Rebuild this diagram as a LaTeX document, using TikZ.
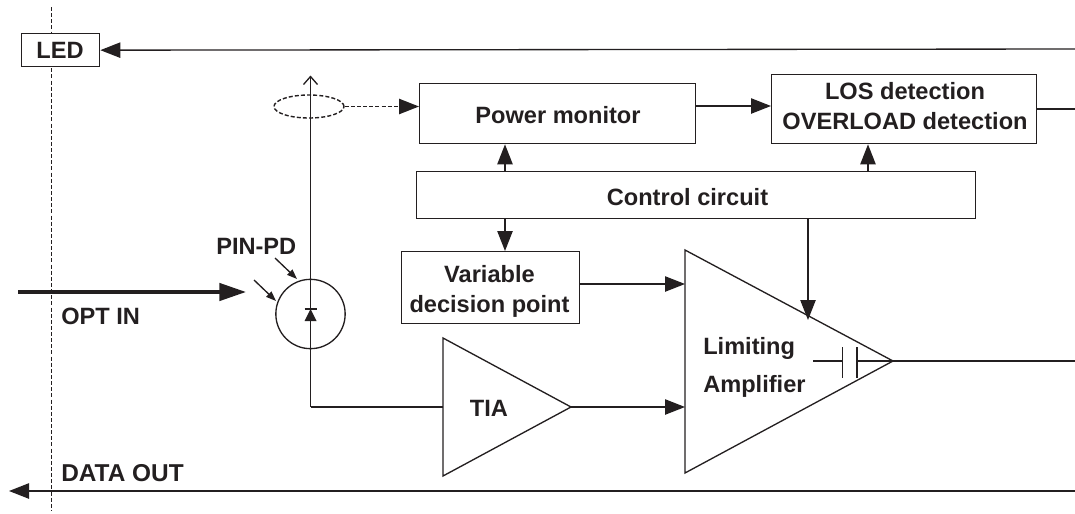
\documentclass[tikz,border=0pt]{standalone}
\usepackage{fontspec}
\setmainfont{Liberation Sans}
\usetikzlibrary{arrows.meta,shapes.geometric}
\definecolor{ink}{HTML}{231F20}
\tikzset{
  blockbox/.style={draw=ink,line width=1pt,inner sep=0pt,anchor=north west},
  lbl/.style={font=\fontsize{17.7}{22.5}\selectfont\bfseries,text=ink,align=center,inner sep=0pt},
  wire/.style={draw=ink,line width=1pt},
  arr/.style={wire,-{Triangle[length=15pt,width=11.5pt,fill=ink]}},
  smallarr/.style={wire,-{Triangle[length=7.5pt,width=5.5pt,fill=ink]}},
  openarr/.style={wire,-{Straight Barb[length=6pt,width=10.5pt,line width=1pt]}},
  dashline/.style={draw=ink,line width=1.05pt,dash pattern=on 3pt off 1.6pt},
}
\begin{document}
\begin{tikzpicture}[x=0.75pt,y=-0.75pt]
\useasboundingbox (0,0) rectangle (1075,514);
% interface line
\coordinate (if1) at (51.5,7);
\coordinate (if2) at (51.5,510);
\draw[dashline] (if1) -- (if2);
% blocks
\node[blockbox,fill=white,minimum width=58.5pt,minimum height=24.75pt] (led) at (21,33) {};
\node[blockbox,minimum width=207pt,minimum height=45pt] (pm) at (419,83) {};
\node[blockbox,minimum width=198.75pt,minimum height=51.75pt] (los) at (771,74) {};
\node[blockbox,minimum width=419.25pt,minimum height=35.25pt] (cc) at (416,171) {};
\node[blockbox,minimum width=133.5pt,minimum height=54pt] (vd) at (401,251) {};
\node[lbl] (ledlbl) at (60,50) {LED};
\node[lbl] (pmlbl) at (558,115) {Power monitor};
\node[lbl] (loslbl) at (905,106.5) {LOS detection\\OVERLOAD detection};
\node[lbl] (cclbl) at (687.5,197) {Control circuit};
\node[lbl] (vdlbl) at (489.5,291.5) {Variable\\decision point};
% amplifiers
\coordinate (tia1) at (443,338);
\coordinate (tia2) at (443,476);
\coordinate (tiaout) at (571,407);
\draw[wire] (tia1) -- (tiaout) -- (tia2) -- cycle;
\coordinate (la1) at (685,250);
\coordinate (la2) at (685,473);
\coordinate (laout) at (893,361);
\draw[wire] (la1) -- (laout) -- (la2) -- cycle;
\node[lbl] (tialbl) at (489,408) {TIA};
\node[lbl,anchor=west] (lal1) at (703,348) {Limiting};
\node[lbl,anchor=west] (lal2) at (703,386) {Amplifier};
% photodiode
\node[draw=ink,line width=1pt,circle,minimum size=52pt,inner sep=0pt] (pd) at (310.5,314) {};
\coordinate (pdtop) at (310.5,75.5);
\coordinate (pdcorner) at (310.5,407);
\coordinate (tiain) at (443,407);
\draw[openarr] (pdcorner) -- (pdtop);
\draw[wire] (pdcorner) -- (tiain);
\fill[ink] (310.5,309) -- (304.5,321) -- (316.5,321) -- cycle;
\coordinate (dbar1) at (304.5,309);
\coordinate (dbar2) at (316.5,309);
\draw[wire] (dbar1) -- (dbar2);
% current sensing
\node[dashline,ellipse,minimum width=52.5pt,minimum height=17.25pt,inner sep=0pt] (sense) at (309,106.5) {};
\draw[dashline,-{Triangle[length=15pt,width=11.5pt,fill=ink]}] (sense.east) -- (sense.east -| pm.west);
% optical in
\coordinate (optstart) at (18,292);
\coordinate (optend) at (246,292);
\draw[draw=ink,line width=2.6pt,-{Triangle[length=20pt,width=13pt,fill=ink,sep=0pt]}] (optstart) -- (optend);
\node[lbl,anchor=west] (optlbl) at (61,316) {OPT IN};
\node[lbl,anchor=west] (pinlbl) at (216,246) {PIN-PD};
\coordinate (pa1) at (275,258);
\coordinate (pa2) at (297,279);
\coordinate (pb1) at (254,280);
\coordinate (pb2) at (276,301);
\draw[smallarr] (pa1) -- (pa2);
\draw[smallarr] (pb1) -- (pb2);
% bus lines
\coordinate (ledr) at (1075,49);
\draw[arr] (ledr) -- (led.east);
\coordinate (outr) at (1075,491);
\coordinate (outl) at (9,491);
\draw[arr] (outr) -- (outl);
\node[lbl,anchor=west,font=\fontsize{18.3}{22.5}\selectfont\bfseries] (datalbl) at (61,473) {DATA OUT};
% internal
\coordinate (pmlos) at (695,106);
\draw[arr] (pmlos) -- (los.west |- pmlos);
\coordinate (losrr) at (1075,109);
\draw[wire] (los.east |- losrr) -- (losrr);
\coordinate (cc1) at (505,171);
\draw[arr] (cc1) -- (cc1 |- pm.south);
\coordinate (cc2) at (868,171);
\draw[arr] (cc2) -- (cc2 |- los.south);
\coordinate (cc3) at (505,218);
\draw[arr] (cc3) -- (cc3 |- vd.north);
\coordinate (cc4) at (808,218);
\coordinate (cc4e) at (808,320);
\draw[arr] (cc4) -- (cc4e);
\coordinate (vdo) at (579,284);
\coordinate (lai1) at (685,284);
\draw[arr] (vdo) -- (lai1);
\coordinate (lai2) at (685,407);
\draw[arr] (tiaout) -- (lai2);
\coordinate (lao) at (1075,361);
\draw[wire] (laout) -- (lao);
% capacitor
\coordinate (capl) at (813,361);
\coordinate (c1) at (842.5,361);
\coordinate (c2) at (857,361);
\draw[wire] (capl) -- (c1);
\draw[wire] (c2) -- (laout);
\coordinate (c1t) at (842.5,347);
\coordinate (c1b) at (842.5,378);
\coordinate (c2t) at (857,347);
\coordinate (c2b) at (857,378);
\draw[wire] (c1t) -- (c1b);
\draw[wire] (c2t) -- (c2b);
\end{tikzpicture}
\end{document}
